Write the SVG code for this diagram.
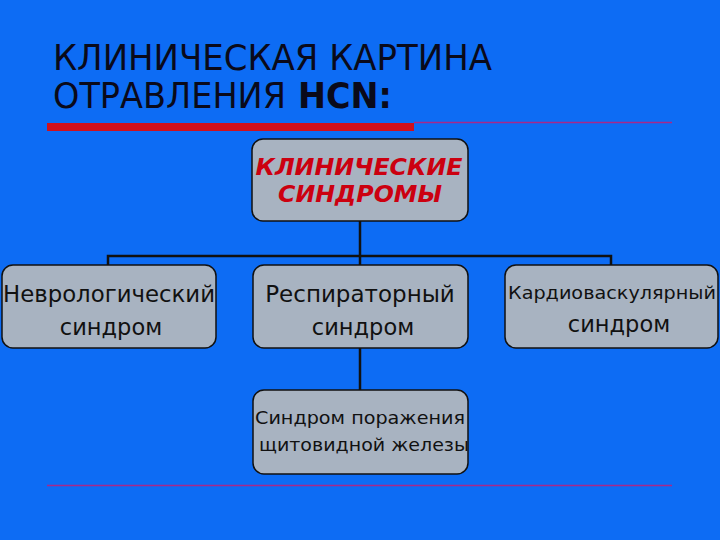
<svg xmlns="http://www.w3.org/2000/svg" width="720" height="540" viewBox="0 0 720 540">
<style>
.title{font-family:"DejaVu Sans","Liberation Sans",sans-serif;font-size:35px;fill:#0a0a1a}
.box{fill:#A8B3C1;stroke:#111;stroke-width:1.5}
.lbl{font-family:"DejaVu Sans","Liberation Sans",sans-serif;fill:#111;text-anchor:middle}
.head{font-family:"DejaVu Sans","Liberation Sans",sans-serif;font-weight:bold;font-style:italic;fill:#CC0010;text-anchor:middle;font-size:23px}
.conn{stroke:#111;stroke-width:2.5;fill:none}
.rule{stroke:#A8288A;stroke-width:1.6}
</style>
<rect width="720" height="540" fill="#0D6CF4"/>
<text class="title" x="53" y="70" textLength="439" lengthAdjust="spacingAndGlyphs">КЛИНИЧЕСКАЯ КАРТИНА</text>
<text class="title" x="53" y="108" textLength="233" lengthAdjust="spacingAndGlyphs">ОТРАВЛЕНИЯ</text>
<text class="title" x="298" y="108" font-weight="bold" textLength="94" lengthAdjust="spacingAndGlyphs">HCN:</text>
<rect x="47" y="123" width="367" height="8" fill="#D0101C"/>
<line class="rule" x1="414" y1="122.5" x2="672" y2="122.5"/>
<line class="rule" x1="47" y1="485.5" x2="672" y2="485.5"/>
<g id="connectors">
<path class="conn" d="M360 221V265M108 265V256H611V265"/>
<path class="conn" d="M360 348V390" stroke-width="3"/>
</g>
<g id="top">
<rect class="box" x="252" y="139" width="216" height="82" rx="11"/>
<text class="head" x="359" y="175" textLength="207" lengthAdjust="spacingAndGlyphs">КЛИНИЧЕСКИЕ</text>
<text class="head" x="360" y="202" textLength="164" lengthAdjust="spacingAndGlyphs">СИНДРОМЫ</text>
</g>
<g id="neuro">
<rect class="box" x="2" y="265" width="214" height="83" rx="11"/>
<text class="lbl" x="109" y="302" font-size="23" textLength="212" lengthAdjust="spacingAndGlyphs">Неврологический</text>
<text class="lbl" x="111" y="335" font-size="22.5">синдром</text>
</g>
<g id="resp">
<rect class="box" x="253" y="265" width="215" height="83" rx="11"/>
<text class="lbl" x="360" y="302" font-size="23">Респираторный</text>
<text class="lbl" x="363" y="335" font-size="22.5">синдром</text>
</g>
<g id="cardio">
<rect class="box" x="505" y="265" width="213" height="83" rx="11"/>
<text class="lbl" x="612" y="299" font-size="18" textLength="208" lengthAdjust="spacingAndGlyphs">Кардиоваскулярный</text>
<text class="lbl" x="619" y="332" font-size="22.5">синдром</text>
</g>
<g id="thyroid">
<rect class="box" x="253" y="390" width="215" height="84" rx="11"/>
<text class="lbl" x="360" y="424" font-size="17.5" textLength="210" lengthAdjust="spacingAndGlyphs">Синдром поражения</text>
<text class="lbl" x="364" y="451" font-size="17.5" textLength="210" lengthAdjust="spacingAndGlyphs">щитовидной железы</text>
</g>
</svg>
